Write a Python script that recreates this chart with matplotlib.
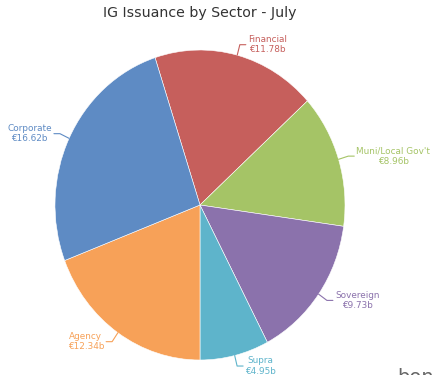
import numpy as np
import matplotlib.pyplot as plt

# IG issuance by sector, July (EUR bn)
sectors = ["Financial", "Muni/Local Gov't", "Sovereign", "Supra", "Agency", "Corporate"]
values = [11.78, 8.96, 9.73, 4.95, 12.34, 16.62]
colors = ["#c65f5c", "#a5c466", "#8b72ac", "#5eb4cb", "#f7a158", "#5e8bc4"]

W, H = 433, 375
fig = plt.figure(figsize=(W / 100, H / 100), dpi=100)

# pie area in pixels (the reference is slightly stretched vertically)
cx, cy, rx, ry = 200, 205, 145, 155
ax = fig.add_axes([(cx - rx) / W, 1 - (cy + ry) / H, 2 * rx / W, 2 * ry / H])

total = sum(values)
# Agency/Supra boundary points straight down
start = 270 - 360 * (values[4] + values[5]) / total

wedges, _ = ax.pie(values, colors=colors, startangle=start, counterclock=False,
                   radius=1, wedgeprops=dict(edgecolor="white", linewidth=0.4))
ax.set_xlim(-1, 1)
ax.set_ylim(-1, 1)
ax.set_aspect("auto")
ax.axis("off")

dx = 6 / rx  # horizontal connector length in data units
for w, name, v, c in zip(wedges, sectors, values, colors):
    a = np.deg2rad((w.theta1 + w.theta2) / 2)
    px, py = np.cos(a), np.sin(a)
    qx, qy = 1.07 * px, 1.07 * py
    side = 1 if px >= 0 else -1
    ax.plot([px, qx, qx + side * dx], [py, qy, qy], color=c, lw=0.8,
            clip_on=False, solid_capstyle="round")
    ax.text(qx + side * (dx + 2 / rx), qy, f"{name}\n€{v:.2f}b", color=c,
            fontsize=6.4, ha="left" if side > 0 else "right", va="center",
            multialignment="center", linespacing=1.2)

fig.text(200 / W, 1 - 13 / H, "IG Issuance by Sector - July", ha="center",
         va="center", fontsize=10.2, color="#333333")

# cut-off watermark at bottom right, as in the reference
fig.text(397 / W, 1 - 368 / H, "bon", ha="left", va="top", fontsize=14,
         color="#666666")

fig.savefig("out.png", dpi=100)
